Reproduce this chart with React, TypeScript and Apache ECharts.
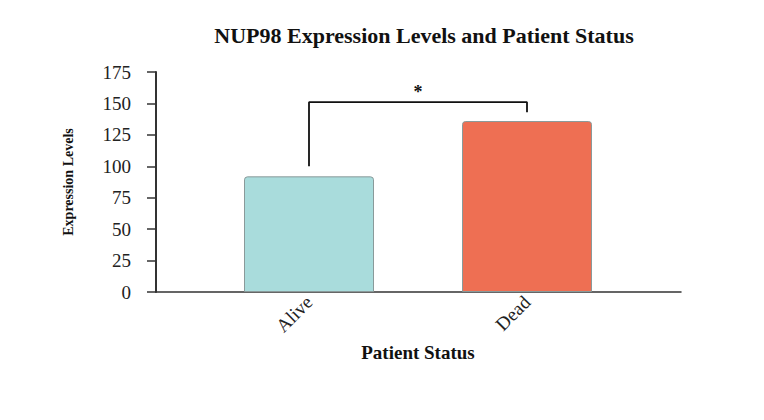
import React, { useEffect, useRef } from "react";
import * as echarts from "echarts";

const categories = ["Alive", "Dead"];
const expression = [92, 136];
const barColors = ["#A9DCDC", "#EE6F53"];
const bracket = [[0, 100], [0, 151], [1, 151], [1, 143]];
const significance = "*";
const yTicks = { min: 0, max: 175, interval: 25 };

export default function App() {
  const ref = useRef<HTMLDivElement>(null);
  useEffect(() => {
    const chart = echarts.init(ref.current!, null, { renderer: "svg" });
    const serif = "Liberation Serif";
    chart.setOption({
      animation: false,
      title: {
        text: "NUP98 Expression Levels and Patient Status",
        left: 419,
        textAlign: "center",
        top: 19,
        textStyle: { fontFamily: serif, fontWeight: "bold", fontSize: 22, color: "#111" },
      },
      grid: [
        { left: 156, right: 83, top: 72, bottom: 128 },
        { left: 200, right: 128, top: 72, bottom: 128 },
      ],
      xAxis: [
        {
          gridIndex: 0, type: "value", min: 0, max: 1,
          axisLine: { show: true, onZero: false, lineStyle: { color: "#333", width: 1.5 } },
          axisTick: { show: false }, axisLabel: { show: false }, splitLine: { show: false },
        },
        {
          gridIndex: 1, type: "category", data: categories,
          axisLine: { show: false }, axisTick: { show: false },
          axisLabel: { rotate: 45, fontFamily: serif, fontSize: 19, color: "#222", margin: 7 },
          name: "Patient Status", nameLocation: "middle", nameGap: 50,
          nameTextStyle: { fontFamily: serif, fontWeight: "bold", fontSize: 19, color: "#111" },
        },
      ],
      yAxis: [
        {
          gridIndex: 0, type: "value", ...yTicks,
          axisLine: { show: true, lineStyle: { color: "#333", width: 2 } },
          axisTick: { show: true, length: 9, lineStyle: { color: "#333", width: 1.5 } },
          axisLabel: { fontFamily: serif, fontSize: 19, color: "#222", margin: 25 },
          splitLine: { show: false },
          name: "Expression Levels", nameLocation: "middle", nameGap: 81, nameRotate: 90,
          nameTextStyle: { fontFamily: serif, fontWeight: "bold", fontSize: 14, color: "#111" },
        },
        {
          gridIndex: 1, type: "value", ...yTicks, show: false,
        },
      ],
      series: [
        {
          type: "bar", xAxisIndex: 1, yAxisIndex: 1, barWidth: 130,
          data: expression.map((v, i) => ({
            value: v,
            itemStyle: { color: barColors[i], borderColor: "#8A9A9A", borderWidth: 1, borderRadius: [3, 3, 0, 0] },
          })),
        },
        {
          type: "line", xAxisIndex: 1, yAxisIndex: 1, data: bracket, symbol: "none",
          lineStyle: { color: "#111", width: 1.8 },
        },
      ],
    });
    const p0 = chart.convertToPixel({ xAxisIndex: 1, yAxisIndex: 1 } as any, bracket[1]) as number[];
    const p1 = chart.convertToPixel({ xAxisIndex: 1, yAxisIndex: 1 } as any, bracket[2]) as number[];
    chart.setOption({
      graphic: [
        {
          type: "text", x: (p0[0] + p1[0]) / 2, y: p0[1] - 1,
          style: { text: significance, fontFamily: serif, fontSize: 18, fontWeight: "bold", fill: "#111", align: "center", verticalAlign: "bottom" },
        },
      ],
    });
    return () => chart.dispose();
  }, []);
  return <div ref={ref} style={{ width: 764, height: 420, position: "absolute", left: 0, top: 0 }} />;
}
